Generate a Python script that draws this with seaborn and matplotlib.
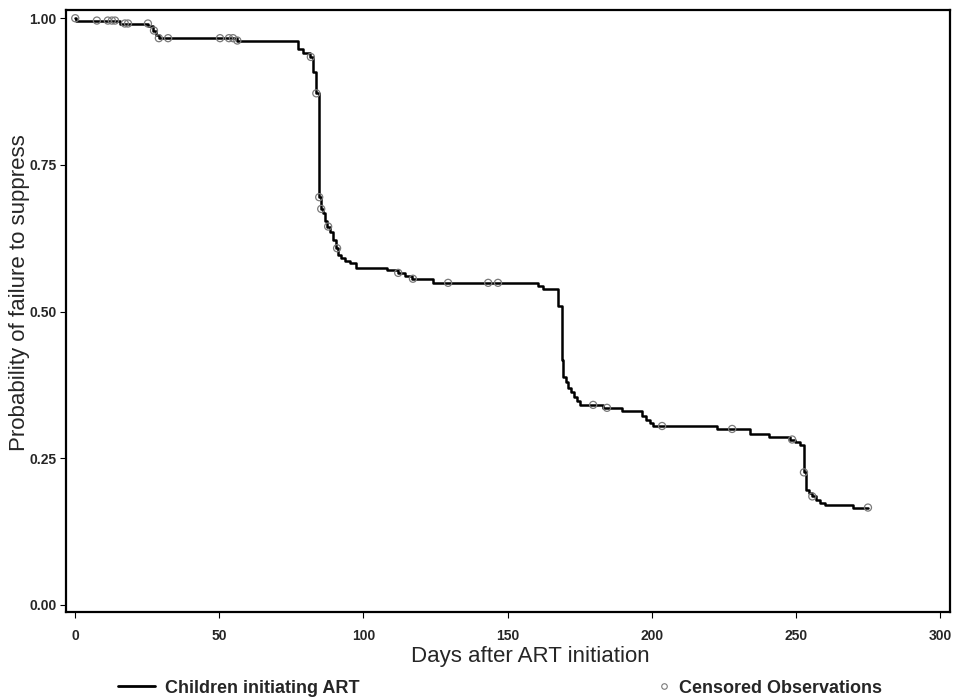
import matplotlib
matplotlib.use("Agg")
import matplotlib.pyplot as plt
from matplotlib.lines import Line2D
import seaborn as sns
import numpy as np
import pandas as pd

# Kaplan-Meier step values (days, probability)
event_days = [0, 0.4, 15.6, 25.5, 27.0, 28.2, 29.0, 56.2, 77.3, 79.0, 81.5,
              82.5, 83.6, 84.6, 85.3, 85.9, 86.8, 87.5, 88.4, 89.4, 90.5,
              91.2, 92.3, 93.7, 95.5, 97.3, 108.2, 112.0, 114.5, 117.0,
              124.2, 160.6, 162.3, 167.5, 168.9, 169.3, 170.3, 171.0, 172.0,
              173.0, 174.1, 175.2, 183.1, 189.7, 196.7, 198.0, 199.4, 200.5,
              222.7, 234.1, 240.7, 248.0, 249.7, 251.5, 252.7, 253.4, 254.5,
              255.6, 256.9, 258.3, 260.0, 269.9, 275.0]
survival = [1.000, 0.996, 0.991, 0.986, 0.979, 0.972, 0.966, 0.962, 0.948,
            0.941, 0.934, 0.908, 0.872, 0.695, 0.675, 0.668, 0.655, 0.645,
            0.635, 0.622, 0.608, 0.596, 0.591, 0.587, 0.582, 0.575, 0.571,
            0.566, 0.561, 0.556, 0.549, 0.544, 0.539, 0.509, 0.417, 0.388,
            0.380, 0.370, 0.363, 0.354, 0.348, 0.341, 0.336, 0.330, 0.322,
            0.316, 0.310, 0.305, 0.300, 0.291, 0.286, 0.282, 0.277, 0.273,
            0.226, 0.196, 0.190, 0.185, 0.179, 0.174, 0.170, 0.166, 0.166]

censored_days = [0.1, 7.6, 11.4, 12.8, 13.9, 17.3, 18.4, 25.3, 27.4, 29.1,
                 32.3, 50.3, 53.4, 54.8, 56.3, 81.8, 83.7, 84.7, 85.4, 87.8,
                 90.9, 112.1, 117.2, 129.4, 143.3, 146.7, 179.7, 184.5,
                 203.6, 227.9, 248.7, 252.8, 255.7, 275.0]

x_ticks = [0, 50, 100, 150, 200, 250, 300]
y_ticks = [0.00, 0.25, 0.50, 0.75, 1.00]

curve = pd.DataFrame({"days": event_days, "prob": survival})
idx = np.searchsorted(np.array(event_days), np.array(censored_days), side="right") - 1
cens = pd.DataFrame({"days": censored_days, "prob": np.array(survival)[idx]})

sns.set_style("white")
plt.rcParams["font.family"] = ["Liberation Sans", "DejaVu Sans"]

fig = plt.figure(figsize=(9.61, 7.00), dpi=100)
ax = fig.add_axes([0.0687, 0.1257, 0.92, 0.86])

sns.lineplot(data=curve, x="days", y="prob", drawstyle="steps-post",
             color="black", linewidth=1.8, ax=ax, zorder=2)
sns.scatterplot(data=cens, x="days", y="prob", marker="o", s=26,
                facecolors="none", edgecolor="#7a7a7a", linewidth=0.9,
                ax=ax, zorder=3)

ax.set_xlim(-3.1, 303.5)
ax.set_ylim(-0.012, 1.014)
ax.set_xticks(x_ticks)
ax.set_yticks(y_ticks)
ax.set_xticklabels([str(t) for t in x_ticks], fontsize=10, fontweight="bold")
ax.set_yticklabels([f"{t:.2f}" for t in y_ticks], fontsize=10, fontweight="bold")
ax.tick_params(axis="both", direction="out", length=4, width=0.8,
               color="black", pad=3, left=True, bottom=True)
ax.tick_params(axis="x", pad=8)

for sp in ax.spines.values():
    sp.set_color("black")
    sp.set_linewidth(1.6)

ax.set_xlabel("Days after ART initiation", fontsize=16)
ax.set_ylabel("Probability of failure to suppress", fontsize=16)
ax.xaxis.set_label_coords(0.525, -0.057)
ax.yaxis.set_label_coords(-0.041, 0.53)

# two separate legend entries spread along the bottom
line_handle = Line2D([], [], color="black", linewidth=2)
circ_handle = Line2D([], [], marker="o", linestyle="none", markersize=4,
                     markerfacecolor="none", markeredgecolor="#7a7a7a",
                     markeredgewidth=0.8)
fig.legend([line_handle], ["Children initiating ART"], loc="center left",
           bbox_to_anchor=(118 / 961, 0.017), frameon=False,
           prop={"size": 13, "weight": "bold"}, handlelength=2.05,
           handletextpad=0.55, borderpad=0, borderaxespad=0)
fig.legend([circ_handle], ["Censored Observations"], loc="center left",
           bbox_to_anchor=(659 / 961, 0.017), frameon=False,
           prop={"size": 13, "weight": "bold"}, handlelength=0.6,
           handletextpad=0.5, borderpad=0, borderaxespad=0)

fig.savefig("out.png", dpi=100)
